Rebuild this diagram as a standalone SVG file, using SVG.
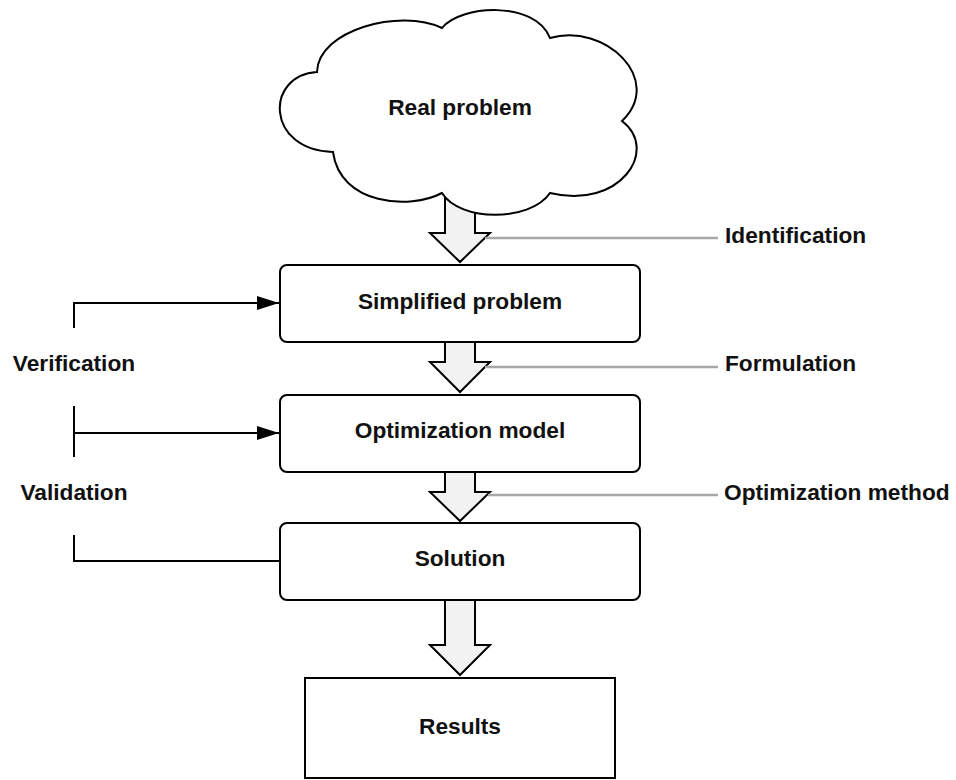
<svg xmlns="http://www.w3.org/2000/svg" width="956" height="780" viewBox="0 0 956 780">
<defs>
<style>
.shape{fill:#fff;stroke:#000;stroke-width:2}
.blk{fill:#f2f2f2;stroke:#000;stroke-width:2;stroke-linejoin:miter}
.lbl{font-family:"Liberation Sans",Arial,sans-serif;font-weight:bold;font-size:22.7px;fill:#111}
.ctr{text-anchor:middle}
.gl{stroke:#a8a8a8;stroke-width:2.5;fill:none}
.ln{stroke:#000;stroke-width:2;fill:none}
</style>
<marker id="ah" viewBox="0 0 22 14" refX="22" refY="7" markerWidth="22" markerHeight="14" markerUnits="userSpaceOnUse" orient="auto">
<path d="M0,0 L22,7 L0,14 Z" fill="#000"/>
</marker>
</defs>
<rect width="956" height="780" fill="#fff"/>
<g id="connectors">
<path class="blk" d="M445,180 L475,180 L475,233 L490,233 L460,262 L430,233 L445,233 Z"/>
<path class="blk" d="M445,342 L475,342 L475,362 L490,362 L460,392 L430,362 L445,362 Z"/>
<path class="blk" d="M445,472 L475,472 L475,492 L490,492 L460,521 L430,492 L445,492 Z"/>
<path class="blk" d="M445,600 L475,600 L475,645 L490,645 L460,675 L430,645 L445,645 Z"/>
<line class="gl" x1="485" y1="238" x2="718" y2="238"/>
<line class="gl" x1="485" y1="367" x2="718" y2="367"/>
<line class="gl" x1="488" y1="495" x2="718" y2="495"/>
<path class="ln" d="M74,328 L74,303 L279,303" marker-end="url(#ah)"/>
<path class="ln" d="M74,406 L74,457 M74,433 L279,433" marker-end="url(#ah)"/>
<path class="ln" d="M74,535 L74,561 L280,561"/>
</g>
<g id="real-problem">
<path class="shape" d="M317,72 C318,30 400,8 442,28 C460,5 535,0 550,38 C605,22 665,80 622,121 C660,150 620,210 550,193 C530,222 460,222 442,193 C410,210 340,205 333,152 C265,150 265,75 317,72 Z"/>
<text class="lbl ctr" x="460" y="115">Real problem</text>
</g>
<g id="simplified-problem">
<rect class="shape" x="280" y="265" width="360" height="77" rx="7"/>
<text class="lbl ctr" x="460" y="309">Simplified problem</text>
</g>
<g id="optimization-model">
<rect class="shape" x="280" y="395" width="360" height="77" rx="7"/>
<text class="lbl ctr" x="460" y="438">Optimization model</text>
</g>
<g id="solution">
<rect class="shape" x="280" y="523" width="360" height="77" rx="7"/>
<text class="lbl ctr" x="460" y="566">Solution</text>
</g>
<g id="results">
<rect class="shape" x="305" y="678" width="310" height="100"/>
<text class="lbl ctr" x="460" y="734">Results</text>
</g>
<g id="labels">
<text class="lbl" x="725" y="243">Identification</text>
<text class="lbl" x="725" y="371">Formulation</text>
<text class="lbl" x="724" y="500">Optimization method</text>
<text class="lbl ctr" x="74" y="371">Verification</text>
<text class="lbl ctr" x="74" y="500">Validation</text>
</g>
</svg>
